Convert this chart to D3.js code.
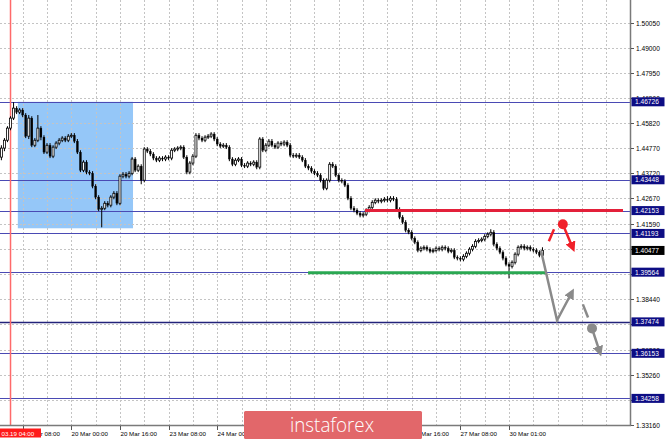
<!DOCTYPE html>
<html><head><meta charset="utf-8">
<script src="https://cdn.jsdelivr.net/npm/d3@7/dist/d3.min.js"></script>
<style>html,body{margin:0;padding:0;background:#fff;}svg{display:block;}</style>
</head><body>
<svg id="c" width="665" height="442"></svg>
<script>
// ---- DATA (H1 bars, index 0 = 19 Mar 01:00) ----
const open = [1.4440,1.4478,1.4511,1.4562,1.4604,1.4646,1.4629,1.4638,1.4617,1.4528,
1.4604,1.4490,1.4511,1.4562,1.4524,1.4461,1.4490,1.4444,1.4482,1.4499,
1.4511,1.4520,1.4511,1.4528,1.4532,1.4507,1.4461,1.4385,1.4419,1.4377,
1.4372,1.4318,1.4272,1.4221,1.4225,1.4246,1.4238,1.4272,1.4288,1.4246,
1.4360,1.4368,1.4360,1.4372,1.4432,1.4385,1.4402,1.4343,1.4474,1.4465,
1.4453,1.4436,1.4427,1.4436,1.4432,1.4440,1.4436,1.4469,1.4474,1.4478,
1.4482,1.4440,1.4377,1.4415,1.4444,1.4532,1.4520,1.4511,1.4524,1.4528,
1.4537,1.4516,1.4495,1.4486,1.4490,1.4482,1.4432,1.4410,1.4427,1.4432,
1.4406,1.4402,1.4415,1.4410,1.4419,1.4398,1.4516,1.4469,1.4490,1.4507,
1.4490,1.4482,1.4499,1.4495,1.4503,1.4490,1.4448,1.4444,1.4448,1.4440,
1.4427,1.4402,1.4394,1.4381,1.4372,1.4364,1.4343,1.4309,1.4343,1.4410,
1.4402,1.4364,1.4343,1.4339,1.4322,1.4267,1.4225,1.4217,1.4204,1.4196,
1.4200,1.4217,1.4229,1.4250,1.4259,1.4255,1.4259,1.4263,1.4259,1.4267,
1.4263,1.4221,1.4187,1.4166,1.4133,1.4124,1.4099,1.4082,1.4048,1.4057,
1.4061,1.4053,1.4044,1.4048,1.4057,1.4053,1.4061,1.4057,1.4044,1.4048,
1.4019,1.4015,1.4011,1.4023,1.4036,1.4053,1.4065,1.4086,1.4090,1.4095,
1.4107,1.4116,1.4124,1.4074,1.4057,1.4040,1.4015,1.3989,1.3981,1.3998,
1.4032,1.4061,1.4065,1.4057,1.4061,1.4053,1.4048,1.4040,1.4027];
const close = [1.4478,1.4511,1.4562,1.4604,1.4646,1.4629,1.4638,1.4617,1.4528,1.4604,
1.4490,1.4511,1.4562,1.4524,1.4461,1.4490,1.4444,1.4482,1.4499,1.4511,
1.4520,1.4511,1.4528,1.4532,1.4507,1.4461,1.4385,1.4419,1.4377,1.4372,
1.4318,1.4272,1.4221,1.4225,1.4246,1.4238,1.4272,1.4288,1.4246,1.4360,
1.4368,1.4360,1.4372,1.4432,1.4385,1.4402,1.4343,1.4474,1.4465,1.4453,
1.4436,1.4427,1.4436,1.4432,1.4440,1.4436,1.4469,1.4474,1.4478,1.4482,
1.4440,1.4377,1.4415,1.4444,1.4532,1.4520,1.4511,1.4524,1.4528,1.4537,
1.4516,1.4495,1.4486,1.4490,1.4482,1.4432,1.4410,1.4427,1.4432,1.4406,
1.4402,1.4415,1.4410,1.4419,1.4398,1.4516,1.4469,1.4490,1.4507,1.4490,
1.4482,1.4499,1.4495,1.4503,1.4490,1.4448,1.4444,1.4448,1.4440,1.4427,
1.4402,1.4394,1.4381,1.4372,1.4364,1.4343,1.4309,1.4343,1.4410,1.4402,
1.4364,1.4343,1.4339,1.4322,1.4267,1.4225,1.4217,1.4204,1.4196,1.4200,
1.4217,1.4229,1.4250,1.4259,1.4255,1.4259,1.4263,1.4259,1.4267,1.4263,
1.4221,1.4187,1.4166,1.4133,1.4124,1.4099,1.4082,1.4048,1.4057,1.4061,
1.4053,1.4044,1.4048,1.4057,1.4053,1.4061,1.4057,1.4044,1.4048,1.4019,
1.4015,1.4011,1.4023,1.4036,1.4053,1.4065,1.4086,1.4090,1.4095,1.4107,
1.4116,1.4124,1.4074,1.4057,1.4040,1.4015,1.3989,1.3981,1.3998,1.4032,
1.4061,1.4065,1.4057,1.4061,1.4053,1.4048,1.4040,1.4027,1.40477];
const high = [1.4490,1.4520,1.4570,1.4612,1.4671,1.4654,1.4646,1.4646,1.4625,1.4617,
1.4612,1.4520,1.4617,1.4570,1.4532,1.4499,1.4499,1.4490,1.4507,1.4520,
1.4528,1.4528,1.4537,1.4541,1.4541,1.4516,1.4469,1.4427,1.4427,1.4385,
1.4381,1.4326,1.4280,1.4234,1.4255,1.4255,1.4280,1.4297,1.4297,1.4368,
1.4377,1.4377,1.4381,1.4440,1.4440,1.4410,1.4410,1.4482,1.4482,1.4474,
1.4461,1.4444,1.4444,1.4444,1.4448,1.4448,1.4478,1.4482,1.4486,1.4490,
1.4490,1.4448,1.4423,1.4453,1.4541,1.4541,1.4528,1.4532,1.4537,1.4545,
1.4545,1.4524,1.4503,1.4499,1.4499,1.4490,1.4440,1.4436,1.4440,1.4440,
1.4415,1.4423,1.4423,1.4427,1.4427,1.4524,1.4524,1.4499,1.4516,1.4516,
1.4499,1.4507,1.4507,1.4511,1.4511,1.4499,1.4457,1.4457,1.4457,1.4448,
1.4436,1.4410,1.4402,1.4389,1.4381,1.4372,1.4351,1.4351,1.4419,1.4419,
1.4410,1.4372,1.4351,1.4347,1.4330,1.4276,1.4234,1.4225,1.4213,1.4208,
1.4225,1.4238,1.4259,1.4267,1.4267,1.4267,1.4272,1.4276,1.4276,1.4276,
1.4272,1.4229,1.4196,1.4175,1.4141,1.4133,1.4107,1.4090,1.4065,1.4069,
1.4069,1.4061,1.4057,1.4065,1.4065,1.4069,1.4069,1.4065,1.4057,1.4057,
1.4027,1.4023,1.4032,1.4044,1.4061,1.4074,1.4095,1.4099,1.4103,1.4116,
1.4124,1.4137,1.4133,1.4082,1.4065,1.4048,1.4023,1.3998,1.4006,1.4040,
1.4069,1.4074,1.4074,1.4069,1.4069,1.4061,1.4057,1.4048,1.4061];
const low = [1.4427,1.4465,1.4503,1.4553,1.4596,1.4621,1.4621,1.4608,1.4520,1.4516,
1.4482,1.4482,1.4503,1.4511,1.4453,1.4453,1.4436,1.4436,1.4474,1.4490,
1.4503,1.4503,1.4503,1.4520,1.4499,1.4453,1.4377,1.4377,1.4368,1.4364,
1.4309,1.4263,1.4213,1.4145,1.4217,1.4229,1.4229,1.4263,1.4238,1.4238,
1.4351,1.4351,1.4351,1.4364,1.4377,1.4377,1.4326,1.4334,1.4457,1.4444,
1.4427,1.4419,1.4419,1.4423,1.4423,1.4427,1.4427,1.4461,1.4465,1.4469,
1.4432,1.4368,1.4368,1.4406,1.4436,1.4511,1.4503,1.4503,1.4516,1.4520,
1.4507,1.4486,1.4478,1.4478,1.4474,1.4423,1.4402,1.4402,1.4419,1.4398,
1.4394,1.4394,1.4402,1.4402,1.4389,1.4389,1.4461,1.4461,1.4482,1.4482,
1.4474,1.4474,1.4486,1.4486,1.4482,1.4440,1.4436,1.4436,1.4432,1.4419,
1.4394,1.4385,1.4372,1.4364,1.4356,1.4334,1.4301,1.4301,1.4334,1.4394,
1.4356,1.4334,1.4330,1.4314,1.4259,1.4217,1.4208,1.4196,1.4187,1.4187,
1.4192,1.4208,1.4221,1.4242,1.4246,1.4246,1.4250,1.4250,1.4250,1.4255,
1.4213,1.4179,1.4158,1.4124,1.4116,1.4090,1.4074,1.4040,1.4040,1.4048,
1.4044,1.4036,1.4036,1.4040,1.4044,1.4044,1.4048,1.4036,1.4036,1.4011,
1.4006,1.4002,1.4002,1.4015,1.4027,1.4044,1.4057,1.4078,1.4082,1.4086,
1.4099,1.4107,1.4065,1.4048,1.4032,1.4006,1.3981,1.3930,1.3972,1.3989,
1.4023,1.4053,1.4048,1.4048,1.4044,1.4040,1.4032,1.4019,1.4019];

const timeLabels = ["19 Mar 08:00","20 Mar 00:00","20 Mar 16:00","23 Mar 08:00","24 Mar 00:00","24 Mar 16:00","25 Mar 08:00","26 Mar 00:00","26 Mar 16:00","27 Mar 08:00","30 Mar 01:00"];
const timeLabelBars = [7,23,39,55,71,87,103,119,135,151,167];
const gridBars = [7,15,23,31,39,47,55,63,71,79,87,95,103,111,119,127,135,143,151,159,167,175,183,191,199];
const priceTicks = [1.50050,1.49000,1.47950,1.46900,1.45820,1.44770,1.43720,1.42670,1.41590,1.40540,1.39490,1.38440,1.37390,1.36300,1.35260,1.34210,1.33160];
const levels = [1.46726,1.43448,1.42153,1.41193,1.39564,1.37474,1.36153,1.34258];
const currentPrice = 1.40477;
const markerBar = 3, markerLabel = "03.19 04:00";
const zoneBars = [5.4, 43.3], zonePrices = [1.46726, 1.41409];
const resistanceBars = [119.6, 204.5], resistancePrice = 1.42153;
const supportBars = [100.9, 179.2], supportPrice = 1.39564;
const grayPath = [[177.5,1.4048],[182.8,1.3754],[187.7,1.3872]];
const grayDash = [[191.3,1.3821],[193.0,1.3766]];
const grayDot = [194.3,1.3720], grayArrowEnd = [196.9,1.3619];
const redSlash = [[180.1,1.4086],[181.8,1.4137]];
const redDot = [184.7,1.4158], redArrowEnd = [188.0,1.4057];

// ---- DRAW ----
const svg = d3.select("#c");
const W = 665, H = 442, plotR = 630, plotB = 425;
const x = d3.scaleLinear().domain([-0.46, 206.8]).range([0, plotR]);
const y = d3.scaleLinear().domain([1.3316, 1.51006]).range([424.5, 0]);

const defs = svg.append("defs");
function head(id, color){
  defs.append("marker").attr("id",id).attr("viewBox","0 0 10 10").attr("refX",6).attr("refY",5)
    .attr("markerWidth",4.2).attr("markerHeight",4.2).attr("orient","auto").attr("markerUnits","strokeWidth")
    .append("path").attr("d","M0,0 L10,5 L0,10 z").attr("fill",color);
}
head("hg","#8a8a8a"); head("hr","#f0202a");

svg.append("rect").attr("width",W).attr("height",H).attr("fill","#fff");

svg.append("rect").attr("x",x(zoneBars[0])).attr("y",y(zonePrices[0]))
  .attr("width",x(zoneBars[1])-x(zoneBars[0])).attr("height",y(zonePrices[1])-y(zonePrices[0]))
  .attr("fill","#95c7f8");

const g = svg.append("g").attr("stroke","#c4c4c4").attr("stroke-width",1).attr("stroke-dasharray","2,2");
priceTicks.forEach(p=>g.append("line").attr("x1",0).attr("x2",plotR).attr("y1",Math.round(y(p))+0.5).attr("y2",Math.round(y(p))+0.5));
gridBars.forEach(b=>g.append("line").attr("y1",0).attr("y2",plotB).attr("x1",Math.round(x(b))+0.5).attr("x2",Math.round(x(b))+0.5));

levels.forEach(p=>svg.append("line").attr("x1",0).attr("x2",plotR).attr("y1",Math.round(y(p))+0.5).attr("y2",Math.round(y(p))+0.5)
  .attr("stroke", p===1.37474 ? "#22227a" : "#4a4ab4").attr("stroke-width", p===1.37474 ? 1.3 : 1));

svg.append("line").attr("x1",x(markerBar)).attr("x2",x(markerBar)).attr("y1",0).attr("y2",plotB)
  .attr("stroke","#ff6a6a").attr("stroke-width",1.5);

const bars = d3.range(close.length);
const cg = svg.append("g");
cg.selectAll("line.w").data(bars).join("line")
  .attr("x1",i=>x(i)).attr("x2",i=>x(i)).attr("y1",i=>y(high[i])).attr("y2",i=>y(low[i]))
  .attr("stroke","#000").attr("stroke-width",1);
cg.selectAll("rect.b").data(bars).join("rect")
  .attr("x",i=>x(i)-1).attr("width",2)
  .attr("y",i=>y(Math.max(open[i],close[i])))
  .attr("height",i=>Math.max(1, Math.abs(y(open[i])-y(close[i]))))
  .attr("fill",i=>close[i]>=open[i] ? "#fff" : "#000")
  .attr("stroke","#000").attr("stroke-width",i=>close[i]>=open[i]?0.8:0.3);

svg.append("line").attr("x1",x(resistanceBars[0])).attr("x2",x(resistanceBars[1]))
  .attr("y1",y(resistancePrice)).attr("y2",y(resistancePrice)).attr("stroke","#e3203a").attr("stroke-width",3);
svg.append("line").attr("x1",x(supportBars[0])).attr("x2",x(supportBars[1]))
  .attr("y1",y(supportPrice)+0.5).attr("y2",y(supportPrice)+0.5).attr("stroke","#2aa852").attr("stroke-width",3);

const ln = d3.line().x(d=>x(d[0])).y(d=>y(d[1]));
svg.append("path").attr("d",ln(grayPath)).attr("fill","none").attr("stroke","#8a8a8a").attr("stroke-width",2.5)
  .attr("stroke-linejoin","miter").attr("marker-end","url(#hg)");
svg.append("path").attr("d",ln(grayDash)).attr("fill","none").attr("stroke","#8a8a8a").attr("stroke-width",2.5);
svg.append("circle").attr("cx",x(grayDot[0])).attr("cy",y(grayDot[1])).attr("r",5).attr("fill","#8a8a8a");
svg.append("path").attr("d",ln([grayDot,grayArrowEnd])).attr("fill","none").attr("stroke","#8a8a8a").attr("stroke-width",2.5).attr("marker-end","url(#hg)");
svg.append("path").attr("d",ln(redSlash)).attr("fill","none").attr("stroke","#f0202a").attr("stroke-width",2.5);
svg.append("circle").attr("cx",x(redDot[0])).attr("cy",y(redDot[1])).attr("r",5).attr("fill","#f0202a");
svg.append("path").attr("d",ln([redDot,redArrowEnd])).attr("fill","none").attr("stroke","#f0202a").attr("stroke-width",2.5).attr("marker-end","url(#hr)");

svg.append("rect").attr("x",plotR+1).attr("y",0).attr("width",W-plotR).attr("height",H).attr("fill","#fff");
svg.append("rect").attr("x",0).attr("y",plotB+1).attr("width",W).attr("height",H-plotB).attr("fill","#fff");
svg.append("line").attr("x1",plotR+0.5).attr("x2",plotR+0.5).attr("y1",0).attr("y2",plotB+1).attr("stroke","#7a7a7a").attr("stroke-width",1.5);
svg.append("line").attr("x1",0).attr("x2",plotR+1).attr("y1",plotB+0.5).attr("y2",plotB+0.5).attr("stroke","#7a7a7a").attr("stroke-width",1.5);

const font = "'Liberation Sans', Arial, sans-serif";
// tick labels: skip those entirely hidden behind a level tag (as in the reference)
const tagged = levels.concat([currentPrice]);
priceTicks.forEach(p=>{
  const yy = Math.round(y(p))+0.5;
  svg.append("line").attr("x1",plotR+1).attr("x2",plotR+4).attr("y1",yy).attr("y2",yy).attr("stroke","#555");
  const hidden = tagged.some(t=>Math.abs(y(t)-y(p))<3.2);
  if(!hidden) svg.append("text").attr("x",636).attr("y",yy+2.4).attr("font-family",font).attr("font-size",6.6).attr("fill","#000").text(p.toFixed(5));
});
const logoX0 = 244, logoX1 = 422;
timeLabelBars.forEach((b,k)=>{
  const xx = Math.round(x(b))+0.5;
  svg.append("line").attr("x1",xx).attr("x2",xx).attr("y1",plotB+1).attr("y2",plotB+5).attr("stroke","#555");
  const covered = xx > logoX0 && xx + 38 < logoX1;
  if(!covered) svg.append("text").attr("x",xx).attr("y",435.5).attr("font-family",font).attr("font-size",6.2).attr("fill","#000").text(timeLabels[k]);
});

function tag(p, bg){
  const yy = y(p);
  svg.append("rect").attr("x",plotR+1.5).attr("y",yy-4.5).attr("width",33).attr("height",9).attr("fill",bg);
  svg.append("text").attr("x",635).attr("y",yy+2.4).attr("font-family",font).attr("font-size",6.6).attr("fill","#fff").text(p.toFixed(5));
}
levels.forEach(p=>tag(p,"#0d0d84"));
tag(currentPrice,"#000");

svg.append("rect").attr("x",0).attr("y",428.5).attr("width",41).attr("height",9).attr("fill","#ff1a1a");
svg.append("text").attr("x",1.5).attr("y",435.5).attr("font-family",font).attr("font-size",6.2).attr("fill","#fff").text(markerLabel);

svg.append("rect").attr("x",logoX0).attr("y",411).attr("width",logoX1-logoX0).attr("height",28).attr("rx",1.5).attr("fill","#e2676a");
svg.append("text").attr("x",332).attr("y",432).attr("text-anchor","middle").attr("font-family","'Open Sans', sans-serif")
  .attr("font-weight",300).attr("font-size",20).attr("fill","#fff").attr("textLength",84).attr("lengthAdjust","spacingAndGlyphs").text("instaforex");
</script>
</body></html>
